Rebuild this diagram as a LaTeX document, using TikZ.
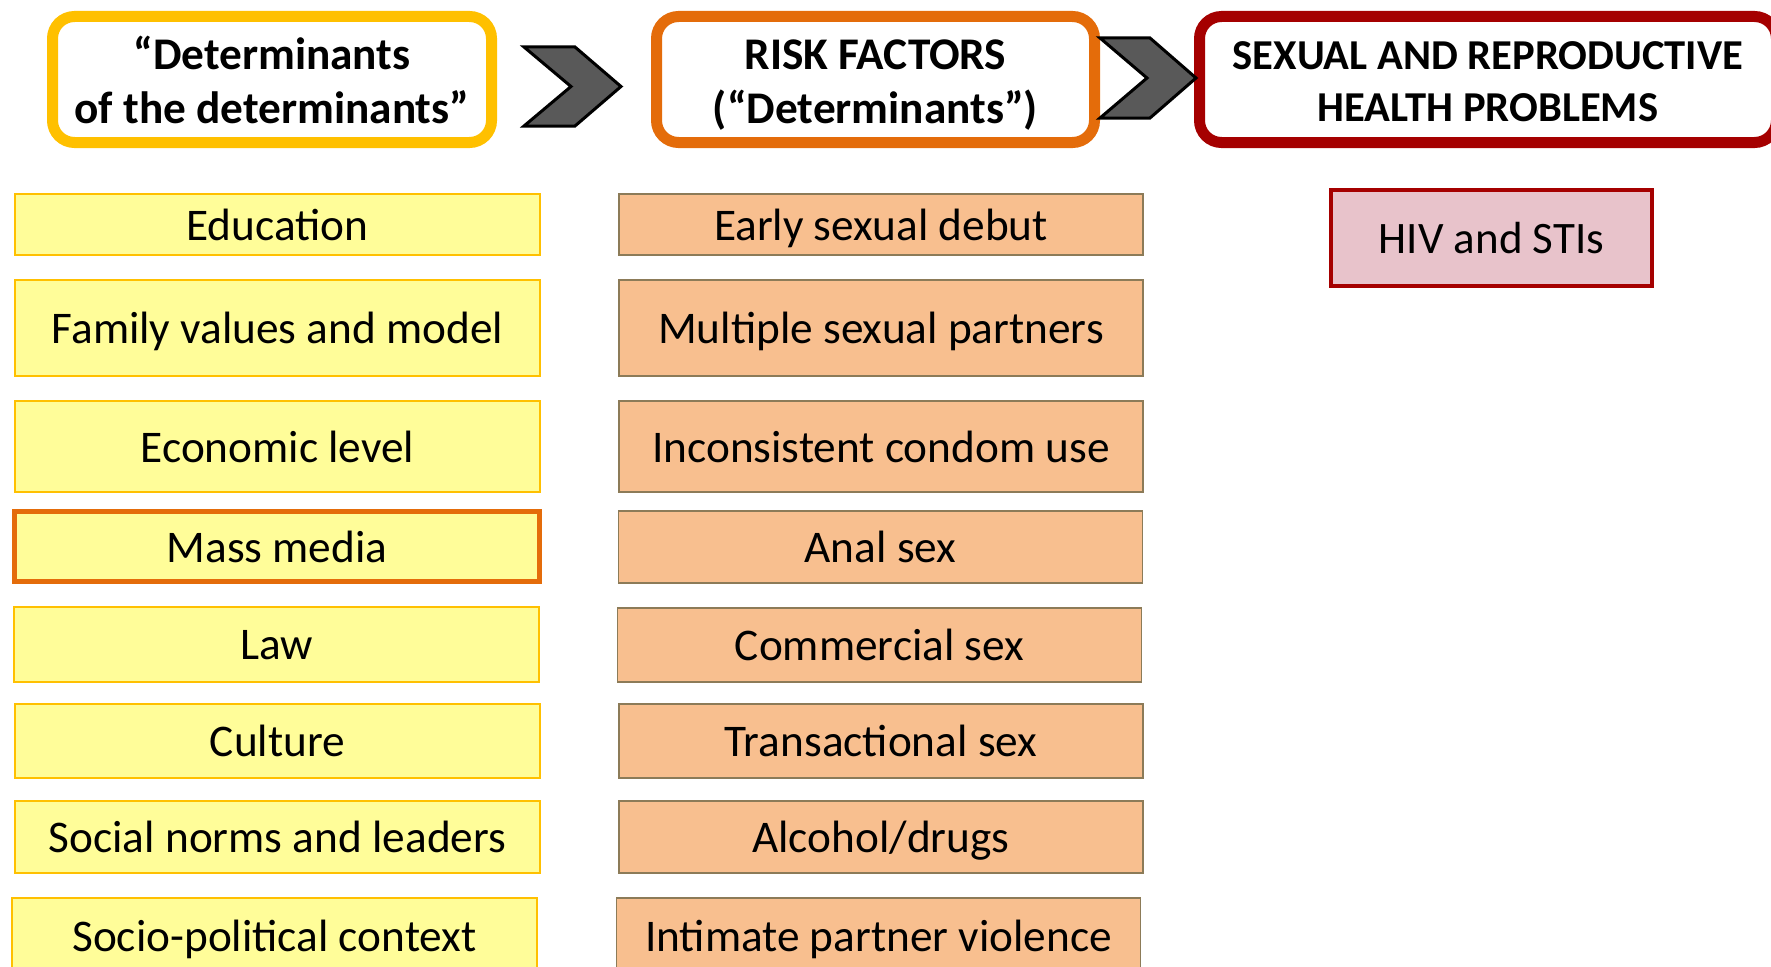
\documentclass[tikz,border=0pt]{standalone}
\usepackage{fontspec}
\setmainfont{Carlito}
\definecolor{hyel}{HTML}{FFC000}
\definecolor{hora}{HTML}{E46C0A}
\definecolor{hred}{HTML}{A50000}
\definecolor{yfill}{HTML}{FFFD99}
\definecolor{yline}{HTML}{FFC000}
\definecolor{pfill}{HTML}{F8BF8F}
\definecolor{pline}{HTML}{8C7B58}
\definecolor{hivfill}{HTML}{E8C3CB}
\definecolor{chevf}{HTML}{595959}
\begin{document}
\begin{tikzpicture}[x=1pt,y=-1pt,
  hdr/.style={draw, line width=11pt, rounded corners=22pt, fill=white, align=center,
    font=\fontsize{45.3}{54}\selectfont\bfseries, inner sep=0pt, text depth=0pt},
  ybox/.style={draw=yline, line width=1.5pt, fill=yfill, minimum width=525pt,
    font=\fontsize{45.3}{54}\selectfont, inner sep=0pt, text depth=0pt},
  pbox/.style={draw=pline, line width=1.5pt, fill=pfill, minimum width=524pt,
    font=\fontsize{45.3}{54}\selectfont, inner sep=0pt, text depth=0pt},
  chev/.style={draw=black, line width=3pt, fill=chevf, line join=miter}]
\useasboundingbox (0,0) rectangle (1771,966);
\clip (0,0) rectangle (1771,966);
% headers
\node[hdr, draw=hyel, minimum width=439pt, minimum height=126pt] (h1) at (272,79.5)
  {“Determinants\\of the determinants”};
\node[hdr, draw=hora, minimum width=438pt, minimum height=126pt] (h2) at (875.5,79.5)
  {\vphantom{“d}RISK FACTORS\\(“Determinants”)};
\node[hdr, draw=hred, minimum width=577pt, minimum height=126pt,
  font=\fontsize{42.6}{52}\selectfont\bfseries] (h3) at (1488,79.5)
  {\vphantom{“d}SEXUAL AND REPRODUCTIVE\\HEALTH PROBLEMS};
% chevrons
\draw[chev] (524,47) -- (575,47) -- (621,86.5) -- (575,126) -- (524,126) -- (571,86.5) -- cycle;
\draw[chev] (1100,38) -- (1150,38) -- (1196,78) -- (1150,118) -- (1100,118) -- (1147,78) -- cycle;
% left column
\node[ybox, minimum height=61pt] (l1) at (277.5,224.5) {Education};
\node[ybox, minimum height=96pt] (l2) at (277.5,328) {Family values and model};
\node[ybox, minimum height=91pt] (l3) at (277.5,446.5) {Economic level};
\node[ybox, draw=hora, line width=5pt, minimum height=70pt] (l4) at (277,546.5) {Mass media};
\node[ybox, minimum height=75pt] (l5) at (276.5,644.5) {Law};
\node[ybox, minimum height=74pt] (l6) at (277.5,741) {Culture};
\node[ybox, minimum height=72pt] (l7) at (277.5,837) {Social norms and leaders};
\node[ybox, minimum height=76pt] (l8) at (274.5,936) {Socio-political context};
% middle column
\node[pbox, minimum height=61pt] (m1) at (881,224.5) {Early sexual debut};
\node[pbox, minimum height=96pt] (m2) at (881,328) {Multiple sexual partners};
\node[pbox, minimum height=91pt] (m3) at (881,446.5) {Inconsistent condom use};
\node[pbox, minimum height=72pt] (m4) at (880.5,547) {Anal sex};
\node[pbox, minimum height=74pt] (m5) at (879.5,645) {Commercial sex};
\node[pbox, minimum height=74pt] (m6) at (881,741) {Transactional sex};
\node[pbox, minimum height=72pt] (m7) at (881,837) {Alcohol/drugs};
\node[pbox, minimum height=76pt] (m8) at (878.5,936) {Intimate partner violence};
% right
\node[draw=hred, line width=4.5pt, fill=hivfill, minimum width=321pt, minimum height=96pt,
  font=\fontsize{45}{54}\selectfont, inner sep=0pt, text depth=0pt] (r1) at (1491.5,238) {HIV and STIs};
\end{tikzpicture}
\end{document}
